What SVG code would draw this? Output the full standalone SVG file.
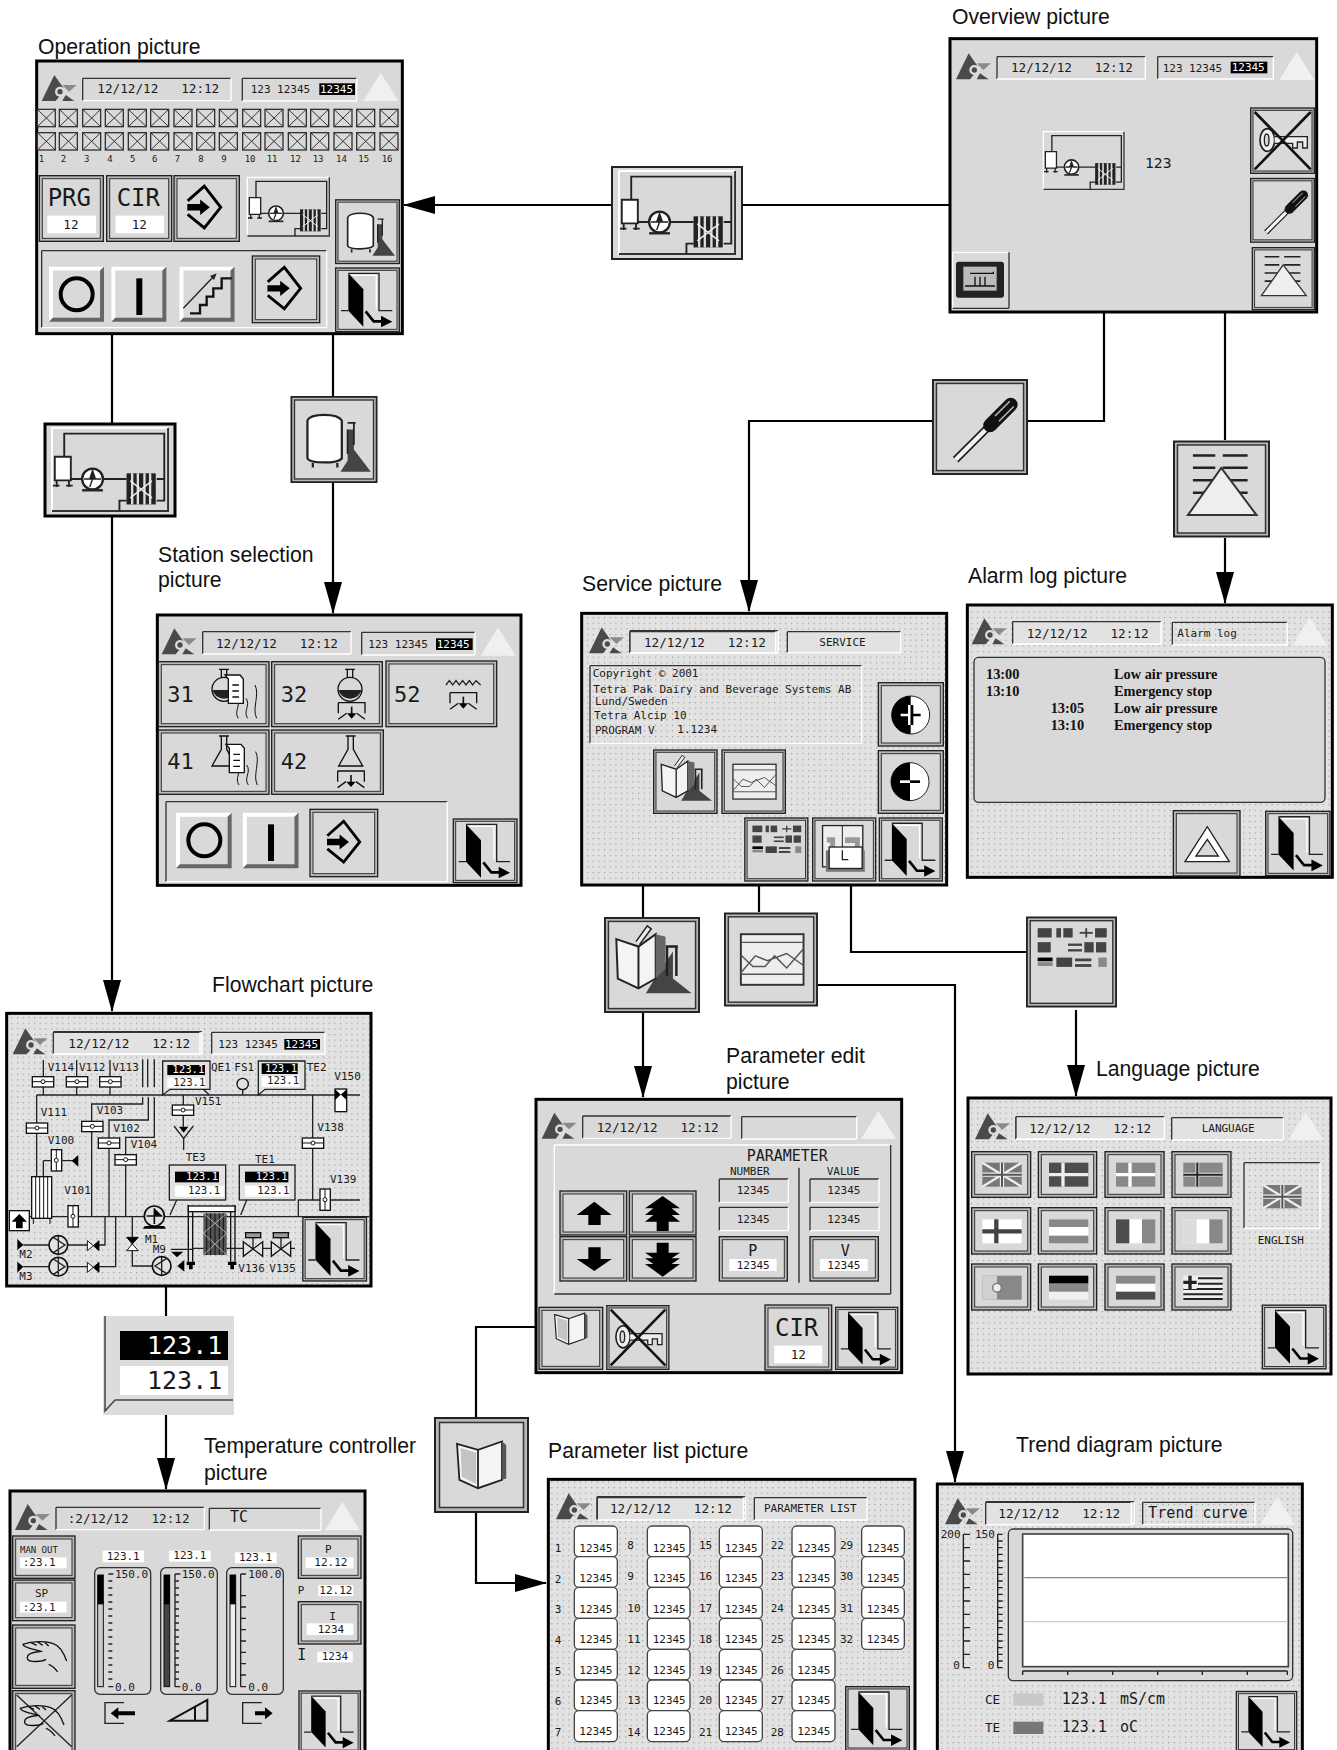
<svg xmlns="http://www.w3.org/2000/svg" width="1337" height="1750" viewBox="0 0 1337 1750">
<style>
symbol{overflow:visible}
.lab{font-family:"Liberation Sans",Arial,sans-serif;font-size:21.2px;fill:#111}
.m{font-family:"DejaVu Sans Mono","Liberation Mono",monospace;fill:#1a1a1a}
.d{font-size:38px;white-space:pre}
.s{font-size:33px}
.xs{font-size:27px}
.l{font-size:45px}
.b{font-size:72px}
.n{font-size:66px}
.i{fill:#fff}
.al{font-family:"Liberation Serif","Times New Roman",serif;font-weight:bold;font-size:43px;fill:#111}
.scr{fill:#d9d9d9;stroke:#000;stroke-width:9}
.scd{fill:#e2e2e2;stroke:#000;stroke-width:9}
.dots{fill:url(#dots)}
.lit{fill:#e2e2e2}
.p{fill:none;stroke:#222;stroke-width:4}
.pt{fill:none;stroke:#111;stroke-width:7}
.wk{fill:#fff;stroke:#222;stroke-width:4}
.gk{fill:#d9d9d9;stroke:#333;stroke-width:4}
.k{fill:#000}
.w{fill:#fff}
.tri{fill:#f0f0f0}
.cell{fill:#fff;stroke:#444;stroke-width:4}
.bo{fill:#b8b8b8;stroke:#222;stroke-width:4;width:100%;height:100%}
.bi{fill:#d9d9d9;stroke:#333;stroke-width:3;width:calc(100% - 18px);height:calc(100% - 18px)}
.sd{stroke:#333;stroke-width:4}
.sl{stroke:#fff;stroke-width:4}
.conn path{fill:none;stroke:#000;stroke-width:2.2}
.ar{marker-end:url(#arr)}
</style>
<defs>
<pattern id="dots" width="17" height="17" patternUnits="userSpaceOnUse"><rect width="3.5" height="3.5" fill="#9a9a9a"/></pattern>
<marker id="arr" markerUnits="userSpaceOnUse" markerWidth="32" markerHeight="18" refX="31" refY="9" orient="auto"><path d="M0 0L32 9L0 18z" fill="#000"/></marker>
<symbol id="logo"><path d="M0 78L38 0L66 40L45 48L55 62L42 78z" fill="#4a4a4a"/><circle cx="55" cy="50" r="15" fill="#ddd"/><circle cx="55" cy="50" r="8" fill="#4a4a4a"/><path d="M62 30L105 30L82 50z" fill="#8a8a8a"/><path d="M72 60L98 78L62 78z" fill="#4a4a4a"/></symbol>
<symbol id="sunk"><line class="sd" x1="0" y1="0" x2="100%" y2="0"/><line class="sd" x1="0" y1="0" x2="0" y2="100%"/><line class="sl" x1="100%" y1="0" x2="100%" y2="100%"/><line class="sl" x1="0" y1="100%" x2="100%" y2="100%"/></symbol>
<symbol id="raised"><line class="sl" x1="0" y1="0" x2="100%" y2="0"/><line class="sl" x1="0" y1="0" x2="0" y2="100%"/><line class="sd" x1="100%" y1="0" x2="100%" y2="100%"/><line class="sd" x1="0" y1="100%" x2="100%" y2="100%"/></symbol>
<symbol id="head"><use href="#logo"/><use href="#sunk" x="123" y="10" width="445" height="67"/></symbol>
<symbol id="white-tri"><path class="tri" d="M0 85L52 0L105 85z"/></symbol>
<symbol id="bt"><rect class="bo"/><rect class="bi" x="9" y="9"/></symbol>
<symbol id="b3d" viewBox="0 0 167 167"><rect width="167" height="167" fill="#d9d9d9"/><path d="M0 0H167L155 12H12V155L0 167z" fill="#fff"/><path d="M167 0V167H0L12 155H155V12z" fill="#666"/></symbol>
<symbol id="exit" viewBox="0 0 195 195"><rect x="2" y="2" width="191" height="191" fill="#b8b8b8" stroke="#222" stroke-width="4"/><rect x="9" y="9" width="177" height="177" fill="#d9d9d9" stroke="#333" stroke-width="3"/><path d="M40 18L85 66V178L40 130z" fill="#000"/><path d="M40 18H132V130H172M18 130H40" fill="none" stroke="#222" stroke-width="4"/><path d="M50 24H124V124" fill="none" stroke="#fff" stroke-width="4"/><path d="M92 132L116 162H146" fill="none" stroke="#000" stroke-width="8"/><path d="M138 145L172 163L138 180z" fill="#000"/></symbol>
<symbol id="enter" viewBox="0 0 110 140"><path d="M3 50L55 4L106 70L55 134L3 92" fill="none" stroke="#000" stroke-width="9"/><path d="M2 60H42V46L72 70L42 94V80H2z" fill="#000"/></symbol>
<symbol id="proc" viewBox="0 0 246 178"><path d="M0 178V0H246" fill="none" stroke="#fff" stroke-width="4"/><path d="M0 176H246V0" fill="none" stroke="#333" stroke-width="4"/><path d="M26 62V12H238V154H222M222 108H238M40 108H158M143 176V154H158" fill="none" stroke="#222" stroke-width="4"/><path d="M6 61H40V111H6zM10 111V125M36 111V125M2 122H16M30 122H44" fill="#fff" stroke="#222" stroke-width="4"/><circle cx="86" cy="108" r="22" fill="#fff" stroke="#222" stroke-width="5"/><path d="M86 90L92 108L104 108L86 108L80 125L86 108L68 108L80 108z" fill="#222" stroke="#222" stroke-width="3"/><path d="M64 132H108" stroke="#222" stroke-width="5"/><rect x="158" y="96" width="62" height="66" fill="#222"/><path d="M170 96V162M182 96V162M196 96V162M208 96V162" stroke="#ddd" stroke-width="5"/><path d="M166 112L212 148M212 112L166 148" stroke="#eee" stroke-width="3"/></symbol>
<symbol id="tankflask" viewBox="0 0 195 195"><rect x="2" y="2" width="191" height="191" fill="#b8b8b8" stroke="#222" stroke-width="4"/><rect x="9" y="9" width="177" height="177" fill="#d9d9d9" stroke="#333" stroke-width="3"/><path d="M128 75H142V120L180 170H112L128 145z" fill="#444"/><path d="M128 75V130M142 60V110M128 60H146" stroke="#222" stroke-width="4"/><path d="M38 55C45 38 105 38 115 55V140C105 152 45 152 38 140z" fill="#fff" stroke="#222" stroke-width="5"/><path d="M50 150V160M105 150V160" stroke="#222" stroke-width="5"/></symbol>
<symbol id="keyx" viewBox="0 0 195 200"><rect x="2" y="2" width="191" height="196" fill="#b8b8b8" stroke="#222" stroke-width="4"/><rect x="9" y="9" width="177" height="182" fill="#d9d9d9" stroke="#333" stroke-width="3"/><ellipse cx="52" cy="98" rx="22" ry="34" fill="#eee" stroke="#222" stroke-width="5"/><ellipse cx="50" cy="98" rx="7" ry="18" fill="#d9d9d9" stroke="#222" stroke-width="4"/><path d="M74 88H172V122H158V104H142V122H128V108H74" fill="#eee" stroke="#222" stroke-width="4"/><path d="M14 14L182 186M182 14L14 186" stroke="#111" stroke-width="8"/></symbol>
<symbol id="screw" viewBox="0 0 195 195"><rect x="2" y="2" width="191" height="191" fill="#b8b8b8" stroke="#222" stroke-width="4"/><rect x="9" y="9" width="177" height="177" fill="#d9d9d9" stroke="#333" stroke-width="3"/><path d="M112 100L48 164" stroke="#222" stroke-width="16"/><path d="M112 100L48 164" stroke="#f4f4f4" stroke-width="9"/><path d="M160 52L118 94" stroke="#111" stroke-width="28" stroke-linecap="round"/><path d="M158 45L128 75M166 56L136 86" stroke="#bbb" stroke-width="3"/></symbol>
<symbol id="alarmi" viewBox="0 0 195 195"><rect x="2" y="2" width="191" height="191" fill="#b8b8b8" stroke="#222" stroke-width="4"/><rect x="9" y="9" width="177" height="177" fill="#d9d9d9" stroke="#333" stroke-width="3"/><path d="M40 30H85M100 30H150M40 55H85M100 55H150M40 80H150M40 105H150" stroke="#222" stroke-width="5"/><path d="M30 150L97 55L168 150z" fill="#eee" stroke="#333" stroke-width="4"/></symbol>
<symbol id="bookflask" viewBox="0 0 195 195"><rect x="2" y="2" width="191" height="191" fill="#b8b8b8" stroke="#222" stroke-width="4"/><rect x="9" y="9" width="177" height="177" fill="#d9d9d9" stroke="#333" stroke-width="3"/><path d="M140 70V125L178 155H85L100 130z" fill="#444"/><path d="M125 60H150M128 60V120M147 60V120" stroke="#222" stroke-width="5"/><path d="M25 45L70 60L105 35V125L70 145L28 125z" fill="#f4f4f4" stroke="#222" stroke-width="4"/><path d="M70 60V145" stroke="#222" stroke-width="4"/><path d="M105 35V125L125 105V40z" fill="#666"/><path d="M65 50L88 18L96 24L72 56" fill="#eee" stroke="#222" stroke-width="3"/></symbol>
<symbol id="trendi" viewBox="0 0 195 195"><rect x="2" y="2" width="191" height="191" fill="#b8b8b8" stroke="#222" stroke-width="4"/><rect x="9" y="9" width="177" height="177" fill="#d9d9d9" stroke="#333" stroke-width="3"/><rect x="35" y="45" width="130" height="105" fill="#eee" stroke="#333" stroke-width="4"/><path d="M35 62H165M35 128H165" stroke="#555" stroke-width="3"/><path d="M35 88L60 112H85L105 90L130 115L165 75M35 125L65 90L90 100L130 85L165 110" fill="none" stroke="#555" stroke-width="3"/></symbol>
<symbol id="flagsi" viewBox="0 0 195 195"><rect x="2" y="2" width="191" height="191" fill="#b8b8b8" stroke="#222" stroke-width="4"/><rect x="9" y="9" width="177" height="177" fill="#d9d9d9" stroke="#333" stroke-width="3"/><g fill="#444"><rect x="25" y="25" width="30" height="20"/><rect x="65" y="25" width="10" height="20"/><rect x="80" y="25" width="20" height="20"/><rect x="115" y="33" width="28" height="4"/><rect x="127" y="25" width="4" height="20"/><rect x="148" y="25" width="25" height="20"/><rect x="25" y="55" width="28" height="22"/><rect x="90" y="58" width="30" height="5"/><rect x="90" y="70" width="30" height="5"/><rect x="125" y="55" width="20" height="22"/><rect x="150" y="55" width="22" height="22"/><rect x="25" y="88" width="32" height="8" fill="#000"/><rect x="25" y="98" width="32" height="8" fill="#888"/><rect x="65" y="88" width="34" height="20"/><rect x="105" y="90" width="35" height="6"/><rect x="105" y="102" width="35" height="6"/><rect x="155" y="88" width="18" height="20" fill="#888"/></g></symbol>
<symbol id="clock" viewBox="0 0 195 195"><rect x="2" y="2" width="191" height="191" fill="#b8b8b8" stroke="#222" stroke-width="4"/><rect x="9" y="9" width="177" height="177" fill="#d9d9d9" stroke="#333" stroke-width="3"/><rect x="32" y="25" width="122" height="125" fill="#eee" stroke="#222" stroke-width="4"/><path d="M92 25V148" stroke="#222" stroke-width="3"/><path d="M45 60H70V140H55V76H45zM100 60H145V100L115 125H145V140H100V115L130 92V78H100z" fill="#999"/><rect x="42" y="100" width="118" height="65" fill="#777"/><rect x="52" y="90" width="100" height="65" fill="#fff" stroke="#222" stroke-width="4"/><path d="M92 100V128H110" fill="none" stroke="#222" stroke-width="4"/></symbol>
<symbol id="booki" viewBox="0 0 100 100"><path d="M10 18L45 28L85 14V78L45 92L14 78z" fill="#f4f4f4" stroke="#222" stroke-width="3"/><path d="M45 28V92" stroke="#222" stroke-width="3"/><path d="M16 25L42 33V85L18 73z" fill="#c4c4c4"/><path d="M85 14L92 20V76L85 78z" fill="#555"/></symbol>
<symbol id="xb"><rect width="54" height="52" fill="#d9d9d9" stroke="#333" stroke-width="4"/><path d="M0 0L54 52M54 0L0 52" stroke="#333" stroke-width="3"/></symbol>
<g id="xrow"><use href="#xb" x="52"/><use href="#xb" x="118"/><use href="#xb" x="188"/><use href="#xb" x="256"/><use href="#xb" x="325"/><use href="#xb" x="392"/><use href="#xb" x="462"/><use href="#xb" x="530"/><use href="#xb" x="598"/><use href="#xb" x="668"/><use href="#xb" x="735"/><use href="#xb" x="805"/><use href="#xb" x="872"/><use href="#xb" x="942"/><use href="#xb" x="1010"/><use href="#xb" x="1080"/></g>
<symbol id="op-o"><circle cx="83" cy="83" r="48" fill="none" stroke="#000" stroke-width="12"/></symbol>
<symbol id="op-i"><rect x="74" y="35" width="18" height="110" fill="#000"/></symbol>
<symbol id="vh"><rect x="2" y="2" width="64" height="31" fill="#fff" stroke="#111" stroke-width="4"/><path d="M2 17H66" stroke="#111" stroke-width="3"/><circle cx="34" cy="17" r="6" fill="#fff" stroke="#111" stroke-width="3"/></symbol>
<symbol id="vv"><rect x="2" y="2" width="31" height="64" fill="#fff" stroke="#111" stroke-width="4"/><path d="M17 2V66" stroke="#111" stroke-width="3"/><circle cx="17" cy="34" r="6" fill="#fff" stroke="#111" stroke-width="3"/></symbol>
<symbol id="bow"><path d="M0 0L18 15L0 30z" fill="#fff" stroke="#111" stroke-width="3"/><path d="M35 0L18 15L35 30z" fill="#000" stroke="#111" stroke-width="3"/></symbol>
<symbol id="gate"><path d="M0 0L29 22L0 44zM58 0L29 22L58 44z" fill="#e2e2e2" stroke="#111" stroke-width="4"/></symbol>
<symbol id="spray"><path d="M0 0H80V32M0 0V32" fill="none" stroke="#111" stroke-width="4"/><path d="M0 50L25 32M80 50L55 32" stroke="#111" stroke-width="4"/><path d="M40 12V35" stroke="#111" stroke-width="5"/><path d="M26 32H54L40 48z" fill="#000"/></symbol>
<symbol id="flaskr"><path d="M25 0H55M32 0V32M48 0V32" stroke="#111" stroke-width="4" fill="none"/><circle cx="40" cy="60" r="36" fill="#d9d9d9" stroke="#111" stroke-width="4"/><path d="M5 62H75A36 34 0 0 1 5 62z" fill="#222"/></symbol>
<symbol id="flaskc"><path d="M25 0H55M32 0V40L4 90H76L48 40V0" fill="#d9d9d9" stroke="#111" stroke-width="4"/></symbol>
<symbol id="beaker"><path d="M0 0H45L55 12V85H10V12z" fill="#fff" stroke="#111" stroke-width="4"/><path d="M22 30H42M22 48H42M22 66H42" stroke="#111" stroke-width="4"/></symbol>
<symbol id="wave"><path d="M0 50C15 70 -10 90 5 110M28 50C43 70 18 90 33 110M55 10C70 40 45 80 60 110" fill="none" stroke="#111" stroke-width="3"/></symbol>
<symbol id="uk" viewBox="0 0 118 72"><rect width="118" height="72" fill="#777"/><path d="M0 0L118 72M118 0L0 72" stroke="#eee" stroke-width="7"/><path d="M59 0V72M0 36H118" stroke="#eee" stroke-width="13"/><path d="M59 0V72M0 36H118" stroke="#555" stroke-width="6"/></symbol>
<symbol id="fdk" viewBox="0 0 118 72"><rect width="118" height="72" fill="#4d4d4d"/><path d="M42 0V72M0 36H118" stroke="#eee" stroke-width="10"/></symbol>
<symbol id="fse" viewBox="0 0 118 72"><rect width="118" height="72" fill="#888"/><path d="M42 0V72M0 36H118" stroke="#fff" stroke-width="10"/></symbol>
<symbol id="fno" viewBox="0 0 118 72"><rect width="118" height="72" fill="#888"/><path d="M42 0V72M0 36H118" stroke="#e8e8e8" stroke-width="11"/><path d="M42 0V72M0 36H118" stroke="#222" stroke-width="6"/></symbol>
<symbol id="ffi" viewBox="0 0 118 72"><rect width="118" height="72" fill="#fff"/><path d="M42 0V72M0 36H118" stroke="#444" stroke-width="13"/></symbol>
<symbol id="fat" viewBox="0 0 118 72"><rect width="118" height="72" fill="#fff"/><rect width="118" height="23" fill="#888"/><rect y="49" width="118" height="23" fill="#888"/></symbol>
<symbol id="ffr" viewBox="0 0 118 72"><rect width="118" height="72" fill="#fff"/><rect width="40" height="72" fill="#4d4d4d"/><rect x="78" width="40" height="72" fill="#888"/></symbol>
<symbol id="fit" viewBox="0 0 118 72"><rect width="118" height="72" fill="#fff"/><rect width="40" height="72" fill="#dcdcdc"/><rect x="78" width="40" height="72" fill="#888"/></symbol>
<symbol id="fpt" viewBox="0 0 118 72"><rect width="118" height="72" fill="#888"/><rect width="44" height="72" fill="#d0d0d0"/><circle cx="44" cy="36" r="13" fill="#eee" stroke="#777" stroke-width="4"/></symbol>
<symbol id="fde" viewBox="0 0 118 72"><rect width="118" height="72" fill="#f0f0f0"/><rect width="118" height="24" fill="#000"/><rect y="24" width="118" height="24" fill="#888"/></symbol>
<symbol id="fnl" viewBox="0 0 118 72"><rect width="118" height="72" fill="#fff"/><rect width="118" height="24" fill="#888"/><rect y="48" width="118" height="24" fill="#4d4d4d"/></symbol>
<symbol id="fgr" viewBox="0 0 118 72"><rect width="118" height="72" fill="#eee"/><path d="M44 8H118M44 24H118M0 40H118M0 56H118M0 70H118" stroke="#222" stroke-width="6"/><rect width="40" height="40" fill="#eee"/><path d="M20 0V40M0 20H40" stroke="#222" stroke-width="10"/></symbol>
<symbol id="hand"><path d="M0 15C30 5 70 5 90 12C110 18 125 45 132 65M0 15C5 28 40 30 55 36C30 40 12 42 14 58C20 72 60 66 70 60M78 75C90 80 100 90 105 98M25 10L42 18M45 8L60 18M65 8L78 20" fill="none" stroke="#111" stroke-width="4"/></symbol>
</defs>
<rect width="1337" height="1750" fill="#fff"/>

<g id="labels">
<text class="lab" x="38" y="54">Operation picture</text>
<text class="lab" x="952" y="24">Overview picture</text>
<text class="lab" x="158" y="562">Station selection</text>
<text class="lab" x="158" y="587">picture</text>
<text class="lab" x="582" y="591">Service picture</text>
<text class="lab" x="968" y="583">Alarm log picture</text>
<text class="lab" x="212" y="992">Flowchart picture</text>
<text class="lab" x="726" y="1063">Parameter edit</text>
<text class="lab" x="726" y="1089">picture</text>
<text class="lab" x="1096" y="1076">Language picture</text>
<text class="lab" x="204" y="1453">Temperature controller</text>
<text class="lab" x="204" y="1480">picture</text>
<text class="lab" x="548" y="1458">Parameter list picture</text>
<text class="lab" x="1016" y="1452">Trend diagram picture</text>
</g>

<g id="connectors" class="conn">
<path d="M950 205H742"/>
<path class="ar" d="M612 205H404"/>
<path d="M112 334V424"/>
<path class="ar" d="M112 516V1011"/>
<path d="M333 334V396"/>
<path class="ar" d="M333 483V613"/>
<path d="M1104 312V421H1028"/>
<path class="ar" d="M932 421H749V611"/>
<path d="M1225 312V440"/>
<path class="ar" d="M1225 538V603"/>
<path d="M643 885V917"/>
<path class="ar" d="M643 1013V1097"/>
<path d="M759 885V912"/>
<path class="ar" d="M818 985H955V1482"/>
<path d="M851 885V952H1026"/>
<path class="ar" d="M1076 1010V1096"/>
<path d="M166 1286V1316"/>
<path class="ar" d="M166 1415V1489"/>
<path d="M536 1327H476V1418"/>
<path class="ar" d="M476 1512V1583H546"/>
</g>

<g id="operation-picture" transform="translate(20,30) scale(.33333)">
<rect class="scr" x="50" y="93" width="1097" height="818"/>
<use href="#head" x="65" y="135"/>
<use href="#sunk" x="667" y="145" width="343" height="68"/>
<use href="#white-tri" x="1030" y="128"/>
<text class="m d" x="232" y="190">12/12/12   12:12</text>
<text class="m s" x="692" y="190">123 12345</text>
<rect class="k" x="898" y="160" width="107" height="35"/><text class="m s i" x="900" y="189">12345</text>
<use href="#xrow" y="238"/><use href="#xrow" y="308"/>
<g class="m xs"><text x="56" y="395">1</text><text x="122" y="395">2</text><text x="192" y="395">3</text><text x="262" y="395">4</text><text x="330" y="395">5</text><text x="396" y="395">6</text><text x="464" y="395">7</text><text x="535" y="395">8</text><text x="604" y="395">9</text><text x="674" y="395">10</text><text x="740" y="395">11</text><text x="810" y="395">12</text><text x="878" y="395">13</text><text x="948" y="395">14</text><text x="1015" y="395">15</text><text x="1085" y="395">16</text></g>
<use href="#bt" x="58" y="437" width="192" height="197"/>
<use href="#bt" x="260" y="437" width="195" height="197"/>
<use href="#bt" x="462" y="437" width="196" height="197"/>
<text class="m b" x="83" y="527">PRG</text><rect class="w" x="82" y="557" width="146" height="53"/><text class="m d" x="130" y="597">12</text>
<text class="m b" x="290" y="527">CIR</text><rect class="w" x="287" y="557" width="145" height="53"/><text class="m d" x="335" y="597">12</text>
<use href="#enter" x="500" y="463" width="106" height="138"/>
<use href="#proc" x="682" y="442" width="246" height="178"/>
<use href="#tankflask" x="945" y="505" width="195" height="200"/>
<use href="#exit" x="945" y="712" width="195" height="195"/>
<use href="#sunk" x="65" y="662" width="855" height="231"/>
<use href="#b3d" x="87" y="710" width="165" height="165"/><use href="#op-o" x="87" y="710"/>
<use href="#b3d" x="273" y="710" width="167" height="165"/><use href="#op-i" x="275" y="710"/>
<use href="#b3d" x="477" y="710" width="168" height="165"/>
<path class="pt" d="M510 850H540V825H560V800H580V775H605V745H635"/><path class="p" d="M490 835L585 735"/><path d="M590 730L570 738L582 750z" fill="#222"/>
<use href="#bt" x="697" y="678" width="202" height="200"/>
<use href="#enter" x="740" y="708" width="106" height="134"/>
</g>

<g id="overview-picture" transform="translate(930,0) scale(.33333)">
<rect class="scr" x="60" y="116" width="1100" height="820"/>
<use href="#head" x="78" y="160"/>
<use href="#sunk" x="683" y="170" width="347" height="67"/>
<use href="#white-tri" x="1048" y="155"/>
<text class="m d" x="243" y="215">12/12/12   12:12</text>
<text class="m s" x="698" y="215">123 12345</text>
<rect class="k" x="902" y="185" width="110" height="35"/><text class="m s i" x="905" y="214">12345</text>
<use href="#proc" x="337" y="395" width="248" height="175"/>
<text class="m" font-size="44" x="645" y="503">123</text>
<use href="#keyx" x="960" y="322" width="195" height="200"/>
<use href="#screw" x="960" y="532" width="195" height="198"/>
<use href="#alarmi" x="965" y="740" width="190" height="192"/>
<use href="#raised" x="68" y="757" width="169" height="168"/>
<rect x="78" y="785" width="144" height="108" rx="8" fill="#222"/><rect x="100" y="800" width="100" height="72" fill="#bbb"/><path d="M120 820H190V815M135 830V860M150 830V860M165 830V860M105 858H195" fill="none" stroke="#111" stroke-width="4"/>
</g>

<g id="process-icon-top" transform="translate(612,167)">
<rect width="130" height="92" fill="#d9d9d9" stroke="#222" stroke-width="2"/>
<use href="#proc" x="4" y="4" width="122" height="84"/>
</g>
<g id="process-icon-left" transform="translate(45,424)">
<rect width="130" height="92" fill="#d9d9d9" stroke="#000" stroke-width="3"/>
<use href="#proc" x="4" y="4" width="122" height="84"/>
</g>
<use id="tank-icon" href="#tankflask" x="290" y="396" width="88" height="87"/>
<use id="screwdriver-icon" href="#screw" x="932" y="378" width="96" height="98"/>
<use id="alarm-icon" href="#alarmi" x="1173" y="440" width="97" height="98"/>
<use id="parameter-icon" href="#bookflask" x="603" y="917" width="98" height="96"/>
<use id="trend-icon" href="#trendi" x="724" y="912" width="94" height="95"/>
<use id="language-icon" href="#flagsi" x="1026" y="914" width="91" height="96"/>
<g id="value-icon" transform="translate(103,1316)">
<rect width="131" height="99" fill="#dcdcdc"/>
<rect x="17" y="15" width="108" height="29" fill="#000"/><text class="m i" font-size="25" x="44" y="38">123.1</text>
<rect x="17" y="50" width="108" height="29" fill="#fff"/><text class="m" font-size="25" x="44" y="73">123.1</text>
<path d="M2 0V95L12 84H130" fill="none" stroke="#444" stroke-width="1.5"/>
</g>
<g id="book-icon" transform="translate(435,1418) scale(.5)">
<use href="#bt" width="186" height="188"/>
<use href="#booki" x="32" y="24" width="120" height="132"/>
</g>

<g id="station-selection-picture" transform="translate(150,610) scale(.33333)">
<rect class="scr" x="22" y="15" width="1091" height="811"/>
<use href="#head" x="35" y="55"/>
<use href="#sunk" x="635" y="67" width="340" height="68"/>
<use href="#white-tri" x="992" y="52"/>
<text class="m d" x="198" y="113">12/12/12   12:12</text>
<text class="m s" x="655" y="113">123 12345</text>
<rect class="k" x="858" y="85" width="110" height="35"/><text class="m s i" x="860" y="113">12345</text>
<use href="#bt" x="25" y="155" width="332" height="195"/>
<use href="#bt" x="365" y="155" width="332" height="195"/>
<use href="#bt" x="708" y="153" width="332" height="197"/>
<use href="#bt" x="25" y="360" width="332" height="193"/>
<use href="#bt" x="365" y="360" width="335" height="193"/>
<text class="m n" x="52" y="276">31</text><use href="#flaskr" x="182" y="178"/><use href="#wave" x="260" y="215"/><use href="#beaker" x="225" y="195"/>
<text class="m n" x="392" y="276">32</text><use href="#flaskr" x="560" y="178"/><use href="#spray" x="565" y="278"/>
<text class="m n" x="732" y="276">52</text><path class="p" d="M888 225L898 212L908 225L918 212L928 225L938 212L948 225L958 212L968 225L978 212L992 225"/><use href="#spray" x="900" y="248" />
<text class="m n" x="52" y="476">41</text><use href="#flaskc" x="182" y="378"/><use href="#wave" x="262" y="415"/><use href="#beaker" x="228" y="403"/>
<text class="m n" x="392" y="476">42</text><use href="#flaskc" x="562" y="378"/><use href="#spray" x="563" y="483"/>
<use href="#sunk" x="48" y="575" width="844" height="240"/>
<use href="#b3d" x="78" y="608" width="167" height="167"/><use href="#op-o" x="80" y="608"/>
<use href="#b3d" x="278" y="608" width="168" height="167"/><use href="#op-i" x="280" y="608"/>
<use href="#bt" x="480" y="598" width="203" height="202"/>
<use href="#enter" x="528" y="630" width="106" height="132"/>
<use href="#exit" x="908" y="625" width="195" height="195"/>
</g>

<g id="alarm-log-picture" transform="translate(960,600) scale(.33333)">
<rect class="scd" x="22" y="15" width="1095" height="817"/>
<rect class="dots" x="25" y="18" width="1089" height="811"/>
<use href="#head" x="35" y="55"/>
<rect class="lit" x="158" y="65" width="445" height="67"/><use href="#sunk" x="158" y="65" width="445" height="67"/>
<use href="#sunk" x="637" y="67" width="345" height="68"/>
<use href="#white-tri" x="997" y="52"/>
<text class="m d" x="200" y="113">12/12/12   12:12</text>
<text class="m s" x="652" y="110">Alarm log</text>
<rect class="gk" x="42" y="172" width="1053" height="435" rx="14"/>
<text class="al" x="78" y="238">13:00</text><text class="al" x="462" y="238">Low air pressure</text>
<text class="al" x="78" y="289">13:10</text><text class="al" x="462" y="289">Emergency stop</text>
<text class="al" x="272" y="340">13:05</text><text class="al" x="462" y="340">Low air pressure</text>
<text class="al" x="272" y="391">13:10</text><text class="al" x="462" y="391">Emergency stop</text>
<use href="#bt" x="640" y="632" width="200" height="196"/>
<path d="M675 785L742 680L808 785z" fill="#fff" stroke="#222" stroke-width="4"/><path d="M708 768L742 718L775 768z" fill="#d9d9d9" stroke="#222" stroke-width="4"/>
<use href="#exit" x="915" y="632" width="197" height="197"/>
</g>

<g id="service-picture" transform="translate(570,600) scale(.33333)">
<rect class="scd" x="35" y="40" width="1095" height="815"/>
<rect class="dots" x="40" y="45" width="1085" height="805"/>
<use href="#head" x="57" y="82"/>
<rect class="lit" x="180" y="95" width="437" height="63"/><use href="#sunk" x="180" y="95" width="437" height="63"/>
<rect class="lit" x="652" y="95" width="340" height="63"/><use href="#sunk" x="652" y="95" width="340" height="63"/>
<text class="m d" x="222" y="140">12/12/12   12:12</text>
<text class="m s" x="748" y="138">SERVICE</text>
<use href="#sunk" x="60" y="197" width="815" height="233"/>
<text class="m s" x="68" y="232">Copyright © 2001</text>
<text class="m s" x="70" y="280">Tetra Pak Dairy and Beverage Systems AB</text>
<text class="m s" x="75" y="316">Lund/Sweden</text>
<text class="m s" x="72" y="358">Tetra Alcip 10</text>
<text class="m s" x="75" y="403">PROGRAM V</text>
<text class="m s" x="322" y="398">1.1234</text>
<use href="#bt" x="925" y="248" width="195" height="190"/>
<circle cx="1022" cy="345" r="57" fill="#fff" stroke="#222" stroke-width="3"/><path d="M1022 288A57 57 0 0 0 1022 402z" fill="#000"/><path d="M992 345H1022M1018 315V375" stroke="#fff" stroke-width="8"/><path d="M1022 345H1052M1026 315V375" stroke="#000" stroke-width="8"/>
<use href="#bt" x="925" y="452" width="195" height="188"/>
<circle cx="1020" cy="545" r="57" fill="#fff" stroke="#222" stroke-width="3"/><path d="M1020 488A57 57 0 0 0 1020 602z" fill="#000"/><path d="M990 545H1020" stroke="#fff" stroke-width="8"/><path d="M1020 545H1050" stroke="#000" stroke-width="8"/>
<use href="#bookflask" x="247" y="448" width="198" height="194"/>
<use href="#trendi" x="452" y="448" width="198" height="194"/>
<use href="#flagsi" x="520" y="652" width="198" height="193"/>
<use href="#clock" x="725" y="652" width="195" height="193"/>
<use href="#exit" x="925" y="652" width="195" height="193"/>
</g>

<g id="flowchart-picture" transform="translate(0,1000) scale(.33333)">
<rect class="scd" x="20" y="40" width="1093" height="818"/>
<rect class="dots" x="25" y="45" width="1083" height="808"/>
<use href="#head" x="38" y="85"/>
<rect class="lit" x="160" y="97" width="440" height="65"/><use href="#sunk" x="160" y="97" width="440" height="65"/>
<rect class="lit" x="635" y="97" width="340" height="65"/><use href="#sunk" x="635" y="97" width="340" height="65"/>
<text class="m d" x="205" y="145">12/12/12   12:12</text>
<text class="m s" x="655" y="145">123 12345</text>
<rect class="k" x="853" y="117" width="107" height="32"/><text class="m s i" x="855" y="144">12345</text>
<path class="p" d="M110 285H1080M110 285V530M130 180V285M230 180V285M330 180V285M428 178V262M443 178V262M463 178V262M428 292V312H275V648M445 292V360H327V648M463 292V412H377V648M550 285V380M551 415V450M938 285V600M895 650V600H1080M728 268V285M155 650H895M895 650H1108M90 650H98M130 482V530H95M130 482H152M187 482H220M315 650V735H297M347 650V800H297M397 650V798H458M70 735H148M200 735H262M70 800H148M200 800H262M580 745H885M513 748H580"/>
<use href="#vh" x="95" y="228"/><use href="#vh" x="197" y="228"/><use href="#vh" x="297" y="228"/>
<use href="#vh" x="77" y="367"/><use href="#vh" x="243" y="362"/><use href="#vh" x="293" y="412"/><use href="#vh" x="343" y="462"/>
<use href="#vh" x="515" y="313"/><use href="#vh" x="905" y="412"/>
<use href="#vv" x="152" y="447"/><use href="#vv" x="202" y="615"/><use href="#vv" x="958" y="565"/>
<path class="k" d="M235 465V500L215 482z"/>
<rect x="95" y="530" width="60" height="125" fill="#fff" stroke="#111" stroke-width="4"/><path d="M107 530V655M119 530V655M131 530V655M143 530V655M100 655V672M150 655V672" stroke="#111" stroke-width="3"/>
<path class="p" d="M522 378L551 415L580 378"/><path class="k" d="M537 380H565L551 398z"/>
<g class="wk"><path d="M488 183H630V268H510L488 285zM775 183H915V268H795L775 285z" fill="#e2e2e2"/><rect x="508" y="495" width="169" height="105" fill="#e2e2e2"/><rect x="718" y="495" width="167" height="105" fill="#e2e2e2"/></g>
<path class="p" d="M610 268L628 285M530 600L510 645M740 600L722 645"/>
<rect class="k" x="502" y="195" width="113" height="30"/><rect class="w" x="502" y="233" width="113" height="30"/>
<rect class="k" x="785" y="190" width="108" height="32"/><rect class="w" x="785" y="228" width="113" height="32"/>
<rect class="k" x="525" y="515" width="132" height="32"/><rect class="w" x="525" y="557" width="148" height="33"/>
<rect class="k" x="735" y="515" width="130" height="32"/><rect class="w" x="735" y="557" width="133" height="33"/>
<g class="m" font-size="32"><text class="i" x="517" y="219">123.1</text><text x="520" y="257">123.1</text><text class="i" x="795" y="216">123.1</text><text x="801" y="253">123.1</text><text class="i" x="558" y="541">123.1</text><text x="564" y="583">123.1</text><text class="i" x="767" y="541">123.1</text><text x="772" y="583">123.1</text></g>
<circle cx="728" cy="252" r="17" fill="#e2e2e2" stroke="#111" stroke-width="4"/>
<rect x="1005" y="267" width="35" height="68" fill="#fff" stroke="#111" stroke-width="4"/><path class="k" d="M1005 268L1040 300V268L1005 300z"/>
<rect x="28" y="632" width="60" height="60" fill="#fff" stroke="#111" stroke-width="4"/><path class="k" d="M35 665L58 642L81 665H68V685H48V665z"/>
<circle cx="463" cy="648" r="30" fill="#e2e2e2" stroke="#111" stroke-width="5"/><path d="M463 625L463 648L487 648M463 648L440 648M463 648L463 672" stroke="#111" stroke-width="5"/><path class="k" d="M435 678H492L498 686H428z"/>
<path d="M565 615V785M705 615V785M578 635V785M692 635V785" stroke="#111" stroke-width="4"/><rect x="565" y="618" width="140" height="17" fill="#fff" stroke="#111" stroke-width="4"/>
<rect x="610" y="640" width="70" height="125" fill="#555"/><path d="M620 640V765M632 640V765M645 640V765M658 640V765M670 640V765" stroke="#111" stroke-width="3"/><path d="M610 640L680 700L610 765M680 640L610 700L680 765" stroke="#ddd" fill="none" stroke-width="2"/>
<path class="k" d="M560 785H585V795H578V808H567V795H560zM684 785H709V795H702V808H691V795H684z"/>
<path class="k" d="M513 755H550L531 772z"/>
<use href="#gate" x="730" y="725"/><use href="#gate" x="814" y="725"/>
<path class="p" d="M759 712V747M843 712V747"/><rect x="737" y="698" width="45" height="15" fill="#999" stroke="#111" stroke-width="4"/><rect x="820" y="698" width="45" height="15" fill="#999" stroke="#111" stroke-width="4"/>
<path class="k" d="M52 717L70 735L52 750zM52 785L70 800L52 818z"/>
<circle cx="175" cy="735" r="28" fill="#e2e2e2" stroke="#111" stroke-width="5"/><path class="p" d="M175 707V763M160 712L195 735L160 758"/>
<circle cx="175" cy="800" r="28" fill="#e2e2e2" stroke="#111" stroke-width="5"/><path class="p" d="M175 772V828M160 777L195 800L160 823"/>
<use href="#bow" x="262" y="722"/><use href="#bow" x="262" y="787"/>
<path d="M380 712L415 712L397 732zM397 732L415 752H380z" fill="#fff" stroke="#111" stroke-width="3"/><path class="k" d="M380 712H415L397 732z"/>
<circle cx="485" cy="798" r="28" fill="#e2e2e2" stroke="#111" stroke-width="5"/><path class="p" d="M485 770V826M500 775L465 798L500 821"/><path class="k" d="M553 780V815L532 798z"/>
<g class="m s"><text x="143" y="213">V114</text><text x="237" y="213">V112</text><text x="337" y="213">V113</text><text x="122" y="348">V111</text><text x="290" y="341">V103</text><text x="340" y="395">V102</text><text x="392" y="445">V104</text><text x="143" y="432">V100</text><text x="193" y="582">V101</text><text x="585" y="315">V151</text><text x="633" y="213">QE1</text><text x="703" y="213">FS1</text><text x="920" y="213">TE2</text><text x="1003" y="240">V150</text><text x="952" y="392">V138</text><text x="990" y="548">V139</text><text x="557" y="483">TE3</text><text x="765" y="488">TE1</text><text x="435" y="728">M1</text><text x="458" y="760">M9</text><text x="58" y="775">M2</text><text x="58" y="840">M3</text><text x="715" y="817">V136</text><text x="808" y="817">V135</text></g>
<use href="#exit" x="905" y="650" width="198" height="195"/>
</g>

<g id="temperature-controller-picture" transform="translate(0,1480) scale(.33333)">
<rect class="scr" x="30" y="33" width="1065" height="900"/>
<use href="#head" x="45" y="72"/>
<use href="#sunk" x="628" y="85" width="335" height="65"/>
<use href="#white-tri" x="975" y="66"/>
<text class="m d" x="203" y="128">:2/12/12   12:12</text>
<text class="m l" x="690" y="125">TC</text>
<use href="#bt" x="38" y="168" width="187" height="127"/><text class="m xs" x="60" y="218">MAN OUT</text><rect class="w" x="60" y="232" width="140" height="33"/><text class="m s" x="68" y="259">:23.1</text>
<use href="#bt" x="38" y="300" width="187" height="122"/><text class="m s" x="105" y="350">SP</text><rect class="w" x="60" y="365" width="140" height="33"/><text class="m s" x="68" y="392">:23.1</text>
<use href="#bt" x="38" y="435" width="187" height="190"/><use href="#hand" x="68" y="478"/>
<use href="#bt" x="38" y="632" width="187" height="200"/><path class="p" d="M50 645L215 800M215 645L50 800"/><use href="#hand" x="60" y="670"/>
<rect class="w" x="308" y="212" width="124" height="35"/><text class="m s" x="320" y="240">123.1</text>
<rect class="w" x="507" y="212" width="125" height="33"/><text class="m s" x="520" y="238">123.1</text>
<rect class="w" x="705" y="217" width="125" height="33"/><text class="m s" x="717" y="243">123.1</text>
<rect class="gk" x="284" y="263" width="168" height="380" rx="16"/><rect class="gk" x="482" y="263" width="170" height="380" rx="16"/><rect class="gk" x="680" y="263" width="170" height="380" rx="16"/>
<rect x="293" y="285" width="17" height="335" fill="#ccc" stroke="#111" stroke-width="3"/><rect class="k" x="293" y="285" width="17" height="88"/>
<rect x="492" y="285" width="17" height="335" fill="#444" stroke="#111" stroke-width="3"/><rect class="k" x="492" y="285" width="17" height="88"/>
<rect x="690" y="285" width="17" height="335" fill="#eee" stroke="#111" stroke-width="3"/><rect class="k" x="690" y="285" width="17" height="88"/>
<path class="p" d="M325 282H340M325 303H337M325 324H337M325 345H337M325 366H337M325 387H337M325 408H337M325 429H337M325 450H337M325 471H337M325 492H337M325 513H337M325 534H337M325 555H337M325 576H337M325 597H337M325 620H340"/>
<path class="p" d="M525 282V620M525 282H541M525 303H537M525 324H537M525 345H537M525 366H537M525 387H537M525 408H537M525 429H537M525 450H537M525 471H537M525 492H537M525 513H537M525 534H537M525 555H537M525 576H537M525 597H537M525 620H541"/>
<path class="p" d="M722 282V620M722 282H738M722 347H738M722 381H738M722 415H738M722 449H738M722 483H738M722 517H738M722 551H738M722 585H738M722 620H738"/>
<text class="m s" x="345" y="294">150.0</text><text class="m s" x="345" y="632">0.0</text>
<text class="m s" x="545" y="294">150.0</text><text class="m s" x="545" y="632">0.0</text>
<text class="m s" x="745" y="294">100.0</text><text class="m s" x="745" y="632">0.0</text>
<path class="p" d="M372 668H315V730H372"/><path class="k" d="M405 694V706H355V718L332 700L355 682V694z"/>
<path d="M510 722L622 660V722zM585 680V722" fill="none" stroke="#111" stroke-width="6"/>
<path class="p" d="M785 668H728V730H785"/><path class="k" d="M765 694H795V682L818 700L795 718V706H765z"/>
<use href="#bt" x="895" y="168" width="188" height="127"/><text class="m s" x="975" y="218">P</text><rect class="w" x="917" y="232" width="143" height="33"/><text class="m s" x="943" y="259">12.12</text>
<text class="m s" x="893" y="342">P</text><rect class="w" x="955" y="315" width="105" height="33"/><text class="m s" x="958" y="341">12.12</text>
<use href="#bt" x="895" y="365" width="188" height="127"/><text class="m s" x="988" y="420">I</text><rect class="w" x="920" y="430" width="140" height="35"/><text class="m s" x="953" y="458">1234</text>
<text class="m l" x="892" y="540">I</text><rect class="w" x="952" y="515" width="106" height="32"/><text class="m s" x="965" y="541">1234</text>
<use href="#exit" x="895" y="630" width="188" height="190"/>
</g>

<g id="parameter-edit-picture" transform="translate(530,1090) scale(.33333)">
<rect class="scr" x="18" y="28" width="1097" height="820"/>
<use href="#head" x="35" y="68"/>
<use href="#sunk" x="635" y="80" width="345" height="67"/>
<use href="#white-tri" x="993" y="62"/>
<text class="m d" x="200" y="127">12/12/12   12:12</text>
<use href="#raised" x="73" y="165" width="1009" height="447"/>
<text class="m l" x="650" y="212">PARAMETER</text>
<text class="m s" x="600" y="255">NUMBER</text><text class="m s" x="890" y="255">VALUE</text>
<use href="#sunk" x="568" y="267" width="207" height="70"/><use href="#sunk" x="840" y="267" width="207" height="70"/><use href="#sunk" x="568" y="352" width="207" height="70"/><use href="#sunk" x="840" y="352" width="207" height="70"/>
<text class="m s" x="620" y="312">12345</text><text class="m s" x="892" y="312">12345</text><text class="m s" x="620" y="400">12345</text><text class="m s" x="892" y="400">12345</text>
<use href="#bt" x="568" y="440" width="204" height="133"/><text class="m l" x="655" y="497">P</text><rect class="w" x="598" y="507" width="142" height="36"/><text class="m s" x="620" y="537">12345</text>
<use href="#bt" x="840" y="440" width="205" height="133"/><text class="m l" x="932" y="497">V</text><rect class="w" x="870" y="507" width="143" height="36"/><text class="m s" x="892" y="537">12345</text>
<path class="p" d="M807 233V578"/>
<use href="#bt" x="90" y="303" width="200" height="132"/><use href="#bt" x="298" y="303" width="200" height="132"/><use href="#bt" x="90" y="440" width="200" height="133"/><use href="#bt" x="298" y="440" width="200" height="133"/>
<path class="k" d="M140 375L193 335L245 375H212V405H175V375zM140 507H175V472H212V507H245L193 543zM345 355L398 318L450 355H425L450 375H425L450 395H416V423H380V395H345L370 375H345L370 355zM380 458H416V488H450L425 505H450L425 522H450L398 560L345 522H370L345 505H370L345 488H380z"/>
<use href="#bt" x="27" y="652" width="191" height="186"/><use href="#booki" x="62" y="650" width="120" height="125"/>
<use href="#keyx" x="225" y="645" width="197" height="195"/>
<use href="#bt" x="705" y="645" width="200" height="195"/><text class="m b" x="735" y="738">CIR</text><rect class="w" x="733" y="767" width="144" height="53"/><text class="m d" x="782" y="806">12</text>
<use href="#exit" x="915" y="650" width="190" height="190"/>
</g>

<g id="language-picture" transform="translate(960,1090) scale(.33333)">
<rect class="scd" x="24" y="24" width="1089" height="828"/>
<rect class="dots" x="28" y="28" width="1081" height="820"/>
<use href="#head" x="45" y="70"/>
<rect class="lit" x="168" y="80" width="445" height="67"/><use href="#sunk" x="168" y="80" width="445" height="67"/>
<rect class="lit" x="635" y="83" width="335" height="67"/><use href="#sunk" x="635" y="83" width="335" height="67"/>
<use href="#white-tri" x="985" y="65"/>
<text class="m d" x="208" y="128">12/12/12   12:12</text>
<text class="m s" x="725" y="125">LANGUAGE</text>
<use href="#bt" x="35" y="185" width="177" height="137"/><use href="#uk" x="67" y="218" width="118" height="72"/>
<use href="#bt" x="235" y="185" width="175" height="137"/><use href="#fdk" x="267" y="218" width="118" height="72"/>
<use href="#bt" x="435" y="185" width="177" height="137"/><use href="#fse" x="468" y="218" width="118" height="72"/>
<use href="#bt" x="636" y="185" width="177" height="137"/><use href="#fno" x="670" y="218" width="118" height="72"/>
<use href="#bt" x="35" y="353" width="177" height="139"/><use href="#ffi" x="67" y="388" width="118" height="72"/>
<use href="#bt" x="235" y="353" width="175" height="139"/><use href="#fat" x="267" y="388" width="118" height="72"/>
<use href="#bt" x="435" y="353" width="177" height="139"/><use href="#ffr" x="468" y="388" width="118" height="72"/>
<use href="#bt" x="636" y="353" width="177" height="139"/><use href="#fit" x="670" y="388" width="118" height="72"/>
<use href="#bt" x="35" y="522" width="177" height="138"/><use href="#fpt" x="67" y="557" width="118" height="72"/>
<use href="#bt" x="235" y="522" width="175" height="138"/><use href="#fde" x="267" y="557" width="118" height="72"/>
<use href="#bt" x="435" y="522" width="177" height="138"/><use href="#fnl" x="468" y="557" width="118" height="72"/>
<use href="#bt" x="636" y="522" width="177" height="138"/><use href="#fgr" x="670" y="557" width="118" height="72"/>
<use href="#sunk" x="852" y="218" width="228" height="197"/>
<use href="#uk" x="908" y="285" width="118" height="70"/>
<text class="m s" x="893" y="463">ENGLISH</text>
<use href="#exit" x="905" y="642" width="195" height="198"/>
</g>

<g id="parameter-list-picture" transform="translate(540,1470) scale(.33333)">
<rect class="scd" x="25" y="28" width="1100" height="860"/>
<rect class="dots" x="30" y="33" width="1090" height="810"/>
<use href="#head" x="48" y="70"/>
<rect class="lit" x="172" y="83" width="438" height="67"/><use href="#sunk" x="172" y="83" width="438" height="67"/>
<rect class="lit" x="643" y="83" width="338" height="67"/><use href="#sunk" x="643" y="83" width="338" height="67"/>
<text class="m d" x="210" y="130">12/12/12   12:12</text>
<text class="m s" x="672" y="125">PARAMETER LIST</text>
<g id="cells">
<rect class="cell" x="103" y="168" width="129" height="92" rx="14"/><rect class="cell" x="103" y="260" width="129" height="92" rx="14"/><rect class="cell" x="103" y="352" width="129" height="93" rx="14"/><rect class="cell" x="103" y="445" width="129" height="93" rx="14"/><rect class="cell" x="103" y="538" width="129" height="92" rx="14"/><rect class="cell" x="103" y="630" width="129" height="92" rx="14"/><rect class="cell" x="103" y="722" width="129" height="93" rx="14"/>
<rect class="cell" x="322" y="168" width="128" height="92" rx="14"/><rect class="cell" x="322" y="260" width="128" height="92" rx="14"/><rect class="cell" x="322" y="352" width="128" height="93" rx="14"/><rect class="cell" x="322" y="445" width="128" height="93" rx="14"/><rect class="cell" x="322" y="538" width="128" height="92" rx="14"/><rect class="cell" x="322" y="630" width="128" height="92" rx="14"/><rect class="cell" x="322" y="722" width="128" height="93" rx="14"/>
<rect class="cell" x="538" y="168" width="129" height="92" rx="14"/><rect class="cell" x="538" y="260" width="129" height="92" rx="14"/><rect class="cell" x="538" y="352" width="129" height="93" rx="14"/><rect class="cell" x="538" y="445" width="129" height="93" rx="14"/><rect class="cell" x="538" y="538" width="129" height="92" rx="14"/><rect class="cell" x="538" y="630" width="129" height="92" rx="14"/><rect class="cell" x="538" y="722" width="129" height="93" rx="14"/>
<rect class="cell" x="756" y="168" width="129" height="92" rx="14"/><rect class="cell" x="756" y="260" width="129" height="92" rx="14"/><rect class="cell" x="756" y="352" width="129" height="93" rx="14"/><rect class="cell" x="756" y="445" width="129" height="93" rx="14"/><rect class="cell" x="756" y="538" width="129" height="92" rx="14"/><rect class="cell" x="756" y="630" width="129" height="92" rx="14"/><rect class="cell" x="756" y="722" width="129" height="93" rx="14"/>
<rect class="cell" x="965" y="168" width="128" height="92" rx="14"/><rect class="cell" x="965" y="260" width="128" height="92" rx="14"/><rect class="cell" x="965" y="352" width="128" height="93" rx="14"/><rect class="cell" x="965" y="445" width="128" height="93" rx="14"/>
</g>
<g class="m s">
<text x="118" y="245">12345</text><text x="118" y="335">12345</text><text x="118" y="428">12345</text><text x="118" y="520">12345</text><text x="118" y="612">12345</text><text x="118" y="703">12345</text><text x="118" y="795">12345</text>
<text x="338" y="245">12345</text><text x="338" y="335">12345</text><text x="338" y="428">12345</text><text x="338" y="520">12345</text><text x="338" y="612">12345</text><text x="338" y="703">12345</text><text x="338" y="795">12345</text>
<text x="554" y="245">12345</text><text x="554" y="335">12345</text><text x="554" y="428">12345</text><text x="554" y="520">12345</text><text x="554" y="612">12345</text><text x="554" y="703">12345</text><text x="554" y="795">12345</text>
<text x="772" y="245">12345</text><text x="772" y="335">12345</text><text x="772" y="428">12345</text><text x="772" y="520">12345</text><text x="772" y="612">12345</text><text x="772" y="703">12345</text><text x="772" y="795">12345</text>
<text x="980" y="245">12345</text><text x="980" y="335">12345</text><text x="980" y="428">12345</text><text x="980" y="520">12345</text>
<text x="44" y="245">1</text><text x="44" y="338">2</text><text x="44" y="430">3</text><text x="44" y="522">4</text><text x="44" y="615">5</text><text x="44" y="705">6</text><text x="44" y="798">7</text>
<text x="262" y="238">8</text><text x="262" y="330">9</text><text x="262" y="425">10</text><text x="262" y="518">11</text><text x="262" y="613">12</text><text x="262" y="702">13</text><text x="262" y="797">14</text>
<text x="477" y="238">15</text><text x="477" y="330">16</text><text x="477" y="425">17</text><text x="477" y="518">18</text><text x="477" y="613">19</text><text x="477" y="702">20</text><text x="477" y="797">21</text>
<text x="692" y="238">22</text><text x="692" y="330">23</text><text x="692" y="425">24</text><text x="692" y="518">25</text><text x="692" y="613">26</text><text x="692" y="702">27</text><text x="692" y="797">28</text>
<text x="900" y="238">29</text><text x="900" y="330">30</text><text x="900" y="425">31</text><text x="900" y="518">32</text>
</g>
<use href="#exit" x="915" y="648" width="195" height="195"/>
</g>

<g id="trend-diagram-picture" transform="translate(930,1470) scale(.33333)">
<rect class="scd" x="22" y="42" width="1095" height="860"/>
<rect class="dots" x="27" y="47" width="1085" height="800"/>
<use href="#head" x="45" y="85"/>
<rect class="lit" x="167" y="97" width="437" height="67"/><use href="#sunk" x="167" y="97" width="437" height="67"/>
<use href="#sunk" x="638" y="97" width="337" height="67"/>
<use href="#white-tri" x="990" y="80"/>
<text class="m d" x="205" y="145">12/12/12   12:12</text>
<text class="m l" x="655" y="145">Trend curve</text>
<rect class="gk" x="235" y="177" width="853" height="455" rx="14"/>
<rect x="278" y="192" width="797" height="398" fill="#fff" stroke="#444" stroke-width="5"/>
<path d="M283 323H1072" stroke="#888" stroke-width="4"/><path d="M283 455H1072" stroke="#ccc" stroke-width="4"/>
<path class="p" d="M278 603H1072M278 603V615M413 603V615M548 603V615M683 603V615M817 603V615M952 603V615M1072 603V615"/>
<path class="p" d="M100 193V593M100 193H120M100 233H120M100 273H120M100 313H120M100 353H120M100 393H120M100 433H120M100 473H120M100 513H120M100 553H120M100 593H120"/>
<path class="p" d="M203 193V593M203 193H218M203 213H218M203 233H218M203 253H218M203 273H218M203 293H218M203 313H218M203 333H218M203 353H218M203 373H218M203 393H218M203 413H218M203 433H218M203 453H218M203 473H218M203 493H218M203 513H218M203 533H218M203 553H218M203 573H218M203 593H218"/>
<g class="m s"><text x="32" y="203">200</text><text x="135" y="203">150</text><text x="70" y="596">0</text><text x="173" y="596">0</text></g>
<text class="m d" x="165" y="702">CE</text><rect x="250" y="670" width="90" height="37" fill="#c8c8c8"/><text class="m l" x="395" y="703">123.1</text><text class="m l" x="570" y="702">mS/cm</text>
<text class="m d" x="165" y="787">TE</text><rect x="250" y="755" width="90" height="37" fill="#777"/><text class="m l" x="395" y="787">123.1</text><text class="m l" x="570" y="787">oC</text>
<use href="#exit" x="917" y="660" width="185" height="190"/>
</g>
</svg>
